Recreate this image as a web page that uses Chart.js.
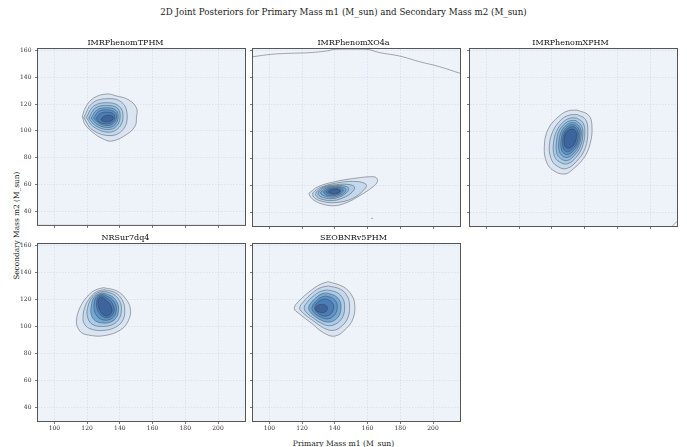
<!DOCTYPE html>
<html>
<head>
<meta charset="utf-8">
<title>2D Joint Posteriors</title>
<script src="https://cdn.jsdelivr.net/npm/chart.js@4.4.1/dist/chart.umd.min.js"></script>
<style>
  html, body { margin: 0; padding: 0; background: #fff; overflow: hidden; }
  #fig { position: relative; width: 687px; height: 447px; overflow: hidden; font-family: 'DejaVu Serif', serif; color: #1a1a1a; }
  #fig canvas { position: absolute; }
  .lbl { position: absolute; white-space: nowrap; line-height: 1; }
  #title { left: 0; width: 687px; top: 7.5px; text-align: center; font-size: 8.7px; }
  #xlabel { left: 0; width: 687px; top: 439.5px; text-align: center; font-size: 7.6px; }
  #ylabel { left: -83px; width: 200px; top: 222px; text-align: center; font-size: 7.4px; transform: rotate(-90deg); }
</style>
</head>
<body>
<div id="fig">
  <div id="title" class="lbl">2D Joint Posteriors for Primary Mass m1 (M_sun) and Secondary Mass m2 (M_sun)</div>
  <div id="xlabel" class="lbl">Primary Mass m1 (M_sun)</div>
  <div id="ylabel" class="lbl">Secondary Mass m2 (M_sun)</div>
</div>
<script>
const approximants = ['IMRPhenomTPHM', 'IMRPhenomXO4a', 'IMRPhenomXPHM', 'NRSur7dq4', 'SEOBNRv5PHM'];
const m1Ticks = [100, 120, 140, 160, 180, 200];
const m2Ticks = [40, 60, 80, 100, 120, 140, 160];
const m1Range = [90, 216.5];
const m2Range = [30, 161];

// KDE contour rings, outermost level first, as [m1, m2] pairs
const tphmRings = [
  [[117.1,110.9],[118.8,104.7],[123.8,98.6],[129,94.5],[135,92.4],[144.1,97.3],[149.3,103.5],[150.2,110],[150.2,117.1],[145.2,123.3],[138,126],[132,127.5],[124,124.5],[119,117.5]],
  [[118,110],[123,101],[134,96.5],[142,101],[144.5,112],[141,121.5],[132,124],[123,120.5]],
  [[119.5,110],[124,103],[133,99],[139.5,102.5],[142,111],[139.5,118.5],[132,121],[124,118.5]],
  [[121,109.5],[125,104],[132.5,101],[138,103.5],[140.2,110.5],[138.5,117],[132,119],[125,117]],
  [[122.5,109.5],[126,105],[132.5,102.5],[137,104.5],[139,110.5],[137.5,115.5],[132,117.2],[126,115.5]],
  [[124,109.5],[127,106],[132,104],[136,105.5],[138,110],[137,114],[132.5,115.7],[127,114.5]],
  [[125.5,109.3],[127.5,106.5],[131.5,105.3],[135,106.2],[137,109.5],[136,112.8],[132.5,114],[128,113]],
  [[128.5,108.5],[129.3,107.3],[131.5,106.8],[134.5,107.3],[136,109.5],[135.5,111],[133,111.6],[130,110.8]]
];

const xo4aRings = [
  [[124.1,54.2],[125.8,50.5],[130.9,46.8],[139,45],[146.1,46.8],[154.2,51.7],[163.4,59.1],[166,62.8],[165.4,65.7],[162.4,66.5],[152.2,65.3],[140,62.8],[129.8,59.1]],
  [[126.5,54.5],[127,51.5],[131.5,48.5],[140,47.3],[151,50.5],[159,58.5],[158.5,61.5],[151,63],[141,61.8],[131,58.5]],
  [[128.5,55],[128.5,52.5],[131.5,50],[138.5,48.8],[145,50.8],[150.5,55],[152,59],[148,60.8],[141,60.6],[133,58.8]],
  [[130,55.3],[130,53],[132.5,51.2],[137.5,50.2],[142.5,51.3],[147,54.5],[148.5,57.8],[146,59.6],[140.5,59.8],[134,58.6]],
  [[131.5,55.3],[131.5,53.8],[133.5,52.3],[137.5,51.3],[141.5,52],[145.5,54.3],[146.8,57],[145,58.7],[140.5,59.1],[135,58.2]],
  [[133,55.3],[134.5,53.2],[137.8,52.4],[141,52.8],[144,54.5],[145.2,56.5],[144,58],[140.5,58.4],[136,57.7]],
  [[134.5,55.4],[135.5,54.2],[137.8,53.5],[140.5,53.6],[142.8,54.6],[143.8,56],[143,57.2],[140.5,57.7],[137,57.2]],
  [[136,55.3],[138,54.2],[140.5,54.1],[142.5,54.8],[143,56.3],[141,57],[138,56.7]]
];
const xo4aTopEdge = [[90,155.3],[101.4,157.1],[112,157.8],[124.8,158.3],[135.9,159.7],[140,160.8],[159.3,160.8],[167.4,158.3],[179.6,155.8],[191.8,151.6],[204,147.9],[216.5,143]];
const xo4aSpeck = [[162.2,35.7],[163.4,35.7]];

const xphmRings = [
  [[155.4,115.8],[162.4,112.1],[164.5,104.7],[163.5,91.2],[159.4,80.1],[152.3,71.4],[148.2,68.5],[142.1,70.2],[137.1,76.4],[135.4,88.7],[138,102.3],[145.2,112.1],[150.2,115.3]],
  [[155.5,112.5],[160.5,109],[162,100],[160.5,88],[156,79],[149,72.5],[143,74.5],[139.5,80],[138.5,90],[141,101],[146,109],[150.5,112]],
  [[155,110],[159,106.5],[160.2,99],[158.6,88.5],[154.8,80.8],[149.5,76],[144.5,77.5],[141.5,82],[141,91],[143,100.5],[147,107],[151,109.8]],
  [[154.8,108],[158,104.5],[159,98.5],[157.5,89],[154,82.5],[149.6,78.5],[145.5,79.8],[143,84],[142.8,92],[144.5,100.5],[148,105.8],[151.5,108]],
  [[154.5,106.3],[157.2,103],[158,98],[156.5,89.5],[153.5,84],[149.8,80.8],[146.5,81.8],[144.5,85.5],[144.3,92.5],[145.8,100],[148.7,104.5],[151.8,106.5]],
  [[154.2,104.8],[156.5,101.8],[157.1,97.5],[155.8,90],[153,85.5],[150,83],[147.3,83.8],[145.8,87],[145.6,93],[146.8,99.5],[149.3,103.5],[152,105]],
  [[154,103.3],[155.8,100.5],[156.2,97],[155,90.5],[152.6,87],[150.1,85],[147.8,85.8],[146.8,88.5],[146.6,93.5],[147.6,99],[149.8,102.3],[152.2,103.5]],
  [[153.7,101.5],[155,99.3],[155.1,96],[154,91],[152,88.5],[150,87.5],[148.3,88.5],[147.5,91],[147.6,95],[148.5,98.8],[150.3,101],[152.2,101.8]]
];
const xphmCorner = [[213.6,30],[214.8,31.4],[216.5,33.3]];

const nrsurRings = [
  [[130.1,128.7],[138.3,126.2],[143.4,120.8],[146.4,113.4],[145.4,104.7],[140.3,97.3],[130.1,93.1],[121,93.6],[115.9,96.1],[113.5,103.5],[115.9,114.6],[121,123.3],[125.1,127]],
  [[130.5,127.2],[137.5,124.8],[141.5,119.5],[143,113],[142,105],[137.5,99.5],[130,97],[122.5,98],[118.5,101.5],[117.5,107],[119,115.5],[122.3,122],[126,125.8]],
  [[130.5,126],[136.5,123.5],[140,118.5],[141,112.5],[139.5,105.5],[135.5,101.3],[129.5,100],[123.5,101.3],[120.5,106],[120.2,113],[122.5,120.5],[126.3,124.8]],
  [[130.3,124.8],[135.5,122],[138.5,117.5],[139.2,112],[137.8,106.5],[134.3,103.2],[129.5,102.5],[125,104.2],[122.5,109],[122.6,115.5],[124,121],[127,124]],
  [[130,123.7],[134.5,120.8],[137.3,116.5],[137.8,111.7],[136.5,107.5],[133.5,105],[129.8,104.8],[126.5,107],[124.5,111.5],[124.3,117],[125.3,121],[127.5,123.2]],
  [[129.8,122.6],[133.7,119.6],[136,115.5],[136.5,111.5],[135.3,108.3],[132.8,106.6],[130,107],[127.5,109.5],[126,113.5],[125.8,118],[126.5,121],[128,122.5]],
  [[129.5,121.3],[132.5,118.5],[134.8,114.5],[135.2,111.2],[134,108.8],[131.8,107.8],[129.5,109],[127.8,112],[126.8,115.5],[126.8,119],[127.6,121]]
];

const seobRings = [
  [[135.9,133.1],[145.1,129.4],[150.2,123.3],[152.2,115.9],[151.2,106],[147.1,98.6],[140,92.8],[132.9,95.5],[125.8,102.3],[118.7,109],[115.2,113.4],[118.7,119.5],[125.8,127],[130.9,131]],
  [[136,130],[143.5,127.5],[147.8,122],[149,115],[148,106.5],[144.5,100.5],[139,97],[133,99],[127,104],[121,109.5],[118.5,113.5],[121,118.5],[126.5,125],[131,128.5]],
  [[135.5,127],[141.5,125],[145,120.5],[146,114.5],[145,107.5],[141.5,102.5],[136.5,100.5],[131.5,102.5],[126.5,106.5],[122.5,110.5],[121.3,114],[123.5,118.5],[128,123.5],[131.5,126]],
  [[135,124.8],[140,122.8],[143,119],[143.8,114],[142.8,108.5],[139.8,104.5],[135.5,103.2],[131.3,104.8],[127.5,107.8],[124.8,111],[124,114],[125.8,118],[129.5,122.3],[132.3,124.3]],
  [[134.5,122.5],[138.5,121],[141,117.8],[141.5,113.8],[140.5,109.5],[138,106.5],[134.8,105.5],[131.5,106.7],[128.5,109],[126.5,111.5],[126,114],[127.5,117.3],[130.3,120.5],[132.5,122]],
  [[134,120.5],[137,119.2],[139,116.5],[139.3,113.5],[138.3,110.3],[136.3,108.2],[133.8,107.6],[131.3,108.5],[129,110.5],[127.8,112.5],[127.8,114.8],[129.2,117.5],[131.5,119.6]],
  [[132.5,116.3],[134.5,115.6],[135.5,114],[135.2,112],[134,110.6],[132,110.2],[130,110.8],[128.5,112.2],[128.3,114],[129.5,115.5],[131,116.2]]
];

const ringSets = [tphmRings, xo4aRings, xphmRings, nrsurRings, seobRings];
const openLines = [[], [xo4aTopEdge, xo4aSpeck], [xphmCorner], [], []];

// grid placement of the five panels: [column, row]
const panelCells = [[0, 0], [1, 0], [2, 0], [0, 1], [1, 1]];
const colLeft = [38, 253, 470];
const rowTop = [49, 244];
const plotW = 207, plotH = 177;

const FONT = "'DejaVu Serif', serif";
const shades = ['#dae5f1', '#c4d9ed', '#abcbe7', '#8fbbe0', '#74a8d5', '#5d93c7', '#4b7db6', '#3d649d'];
const lineColor = 'rgba(50,52,60,0.6)';

Chart.defaults.font.family = FONT;

const toXY = pts => pts.map(([m1, m2]) => ({x: m1, y: m2}));

function buildDatasets(rings, lines) {
  const n = rings.length;
  const sets = rings.map((ring, i) => ({
    data: toXY(ring.concat([ring[0]])),
    fill: 'shape',
    backgroundColor: shades[Math.round(i * (shades.length - 1) / (n - 1))],
    borderColor: lineColor,
    borderWidth: 0.7,
    tension: 0.4,
    pointRadius: 0,
    order: n - i + 1
  }));
  lines.forEach(l => sets.push({
    data: toXY(l),
    fill: false,
    borderColor: lineColor,
    borderWidth: 0.7,
    tension: 0.4,
    pointRadius: 0,
    order: 0
  }));
  return sets;
}

// light panel background and dark frame around the plot area
const panelFrame = {
  id: 'panelFrame',
  beforeDraw(chart) {
    const {ctx, chartArea: a} = chart;
    ctx.save();
    ctx.fillStyle = '#eef3fa';
    ctx.fillRect(a.left, a.top, a.right - a.left, a.bottom - a.top);
    ctx.restore();
  },
  afterDraw(chart) {
    const {ctx, chartArea: a} = chart;
    ctx.save();
    ctx.strokeStyle = '#555';
    ctx.lineWidth = 1;
    ctx.strokeRect(a.left - 0.5, a.top - 0.5, a.right - a.left + 1, a.bottom - a.top + 1);
    ctx.restore();
  }
};

const fig = document.getElementById('fig');

approximants.forEach((name, i) => {
  const [col, row] = panelCells[i];
  const showY = col === 0;
  const showX = row === 1;
  const axw = showY ? 32 : 6;
  const axh = showX ? 16 : 6;
  const th = 20, pr = 2;

  const canvas = document.createElement('canvas');
  canvas.width = plotW + axw + pr;
  canvas.height = plotH + th + axh;
  canvas.style.left = (colLeft[col] - axw) + 'px';
  canvas.style.top = (rowTop[row] - th) + 'px';
  canvas.style.width = canvas.width + 'px';
  canvas.style.height = canvas.height + 'px';
  fig.appendChild(canvas);

  const gridOpts = {
    color: 'rgba(170,185,210,0.45)',
    lineWidth: 0.6,
    tickLength: 3,
    tickColor: '#555',
    tickWidth: 0.8
  };

  new Chart(canvas, {
    type: 'line',
    data: {datasets: buildDatasets(ringSets[i], openLines[i])},
    options: {
      responsive: false,
      animation: false,
      events: [],
      layout: {padding: {top: 0, left: 0, right: pr, bottom: 0}},
      plugins: {
        legend: {display: false},
        tooltip: {enabled: false},
        title: {
          display: true,
          text: name,
          color: '#111',
          font: {family: FONT, size: 8, weight: 'normal'},
          padding: {top: 9.4, bottom: 1}
        }
      },
      scales: {
        x: {
          type: 'linear',
          min: m1Range[0],
          max: m1Range[1],
          afterBuildTicks: axis => { axis.ticks = m1Ticks.map(v => ({value: v})); },
          afterFit: axis => { axis.height = axh; },
          grid: gridOpts,
          border: {display: false, dash: [1.5, 1.5]},
          ticks: {display: showX, color: '#333', font: {size: 6}, padding: 1, maxRotation: 0}
        },
        y: {
          type: 'linear',
          min: m2Range[0],
          max: m2Range[1],
          afterBuildTicks: axis => { axis.ticks = m2Ticks.map(v => ({value: v})); },
          afterFit: axis => { axis.width = axw; },
          grid: gridOpts,
          border: {display: false, dash: [1.5, 1.5]},
          ticks: {display: showY, color: '#333', font: {size: 6}, padding: 3.5}
        }
      }
    },
    plugins: [panelFrame]
  });
});
</script>
</body>
</html>
